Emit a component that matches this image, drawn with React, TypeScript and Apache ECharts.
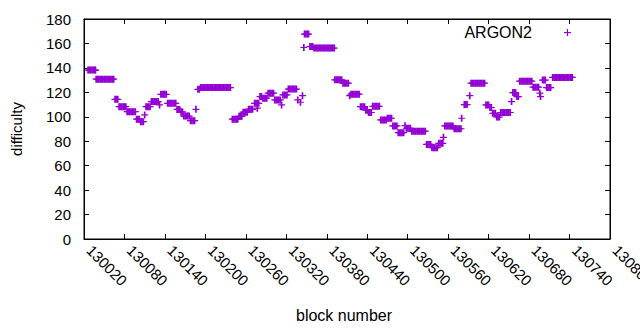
import React, { useEffect, useRef } from "react";
import * as echarts from "echarts";

const SERIES_NAME = "ARGON2";
const X_MIN = 130020;
const X_MAX = 130800;
const X_STEP = 60;
const Y_MIN = 0;
const Y_MAX = 180;
const Y_STEP = 20;

// [block number, difficulty]
const pointsEarly: [number, number][] = [
  [130026, 138.2], [130028, 138.2], [130030, 138.2], [130032, 138.2], [130034, 138.2], [130036, 138.2], [130037, 138.2],
  [130038, 130.8], [130040, 130.8], [130042, 130.8], [130044, 130.8], [130046, 130.8], [130048, 130.8], [130050, 130.8],
  [130052, 130.8], [130054, 130.8], [130056, 130.8], [130058, 130.8], [130060, 130.8], [130062, 130.8], [130064, 130.8],
  [130066, 114.3], [130068, 114.3], [130070, 114.3],
  [130072, 108.3], [130074, 108.3], [130076, 108.3], [130078, 108.3], [130080, 108.3], [130082, 108.3],
  [130084, 104.2], [130086, 104.2], [130088, 104.2], [130090, 104.2], [130092, 104.2], [130094, 104.2], [130096, 104.2],
  [130098, 98], [130100, 98], [130102, 98],
  [130104, 96], [130106, 96], [130108, 96],
  [130110, 101.5],
  [130112, 108.3], [130114, 108.3], [130116, 108.3], [130118, 108.3],
  [130120, 112.4], [130122, 112.4], [130124, 112.4], [130126, 112.4], [130128, 112.4], [130130, 112.4],
  [130132, 109.7],
  [130134, 118.4], [130136, 118.4], [130138, 118.4], [130140, 118.4], [130142, 118.4],
  [130144, 111], [130146, 111], [130148, 111], [130150, 111], [130152, 111], [130154, 111], [130156, 111],
  [130158, 106], [130160, 106], [130162, 106],
  [130164, 104], [130166, 104],
  [130168, 100.6], [130170, 100.6], [130172, 100.6], [130174, 100.6], [130176, 100.6],
  [130178, 96.8], [130180, 96.8], [130182, 96.8], [130184, 96.8],
  [130186, 106.1],
  [130189, 122.5], [130191, 122.5],
  [130193, 123.9], [130195, 123.9], [130197, 123.9], [130199, 123.9], [130201, 123.9], [130203, 123.9], [130205, 123.9],
  [130207, 123.9], [130209, 123.9], [130211, 123.9], [130213, 123.9], [130215, 123.9], [130217, 123.9], [130219, 123.9],
  [130221, 123.9], [130223, 123.9], [130225, 123.9], [130227, 123.9], [130229, 123.9], [130231, 123.9], [130233, 123.9],
  [130235, 123.9], [130237, 123.9],
];

const pointsMiddle: [number, number][] = [
  [130240, 98], [130242, 98], [130244, 98], [130246, 98], [130248, 98],
  [130250, 100.4], [130252, 100.4], [130254, 100.4],
  [130256, 103.8], [130258, 103.8], [130260, 103.8], [130262, 103.8],
  [130264, 106.1], [130266, 106.1], [130268, 106.1], [130270, 106.1],
  [130273, 111], [130275, 111], [130277, 111], [130279, 111],
  [130277, 107],
  [130281, 116.5], [130283, 116.5],
  [130285, 115.2], [130287, 115.2], [130289, 115.2], [130291, 115.2],
  [130293, 119.3], [130295, 119.3], [130297, 119.3], [130299, 119.3], [130301, 119.3],
  [130303, 113.8], [130305, 113.8], [130307, 113.8], [130309, 113.8], [130311, 113.8],
  [130313, 109.7],
  [130315, 117.9], [130317, 117.9], [130319, 117.9], [130321, 117.9],
  [130323, 122.7], [130325, 122.7], [130327, 122.7], [130329, 122.7], [130331, 122.7], [130333, 122.7], [130335, 122.7],
  [130337, 113.8], [130341, 111.9], [130344, 117.3], [130346, 156.7],
  [130347, 167.7], [130349, 167.7], [130351, 167.7], [130353, 167.7],
  [130355, 157.5], [130357, 157.5], [130359, 157.5],
  [130361, 156.2], [130363, 156.2], [130365, 156.2], [130367, 156.2], [130369, 156.2], [130371, 156.2], [130373, 156.2],
  [130375, 156.2], [130377, 156.2], [130379, 156.2], [130381, 156.2], [130383, 156.2], [130385, 156.2], [130387, 156.2],
  [130389, 156.2], [130391, 156.2],
  [130392, 130.2], [130394, 130.2], [130396, 130.2], [130398, 130.2], [130400, 130.2], [130402, 130.2],
  [130404, 127.5], [130406, 127.5], [130408, 127.5], [130410, 127.5], [130412, 127.5],
  [130414, 117.3],
  [130416, 118.5], [130418, 118.5], [130420, 118.5], [130422, 118.5], [130424, 118.5], [130426, 118.5], [130428, 118.5],
  [130430, 108.3], [130432, 108.3], [130434, 108.3], [130436, 108.3],
  [130438, 105.4], [130440, 105.4],
  [130442, 103.5], [130444, 103.5], [130446, 103.5],
  [130448, 108.6], [130450, 108.6], [130452, 108.6], [130454, 108.6], [130456, 108.6], [130458, 108.6],
  [130460, 97.4], [130462, 97.4], [130464, 97.4], [130466, 97.4], [130468, 97.4],
  [130470, 98.8], [130472, 98.8], [130474, 98.8], [130476, 98.8],
  [130478, 92.5], [130480, 92.5], [130482, 92.5], [130484, 92.5],
  [130486, 87], [130488, 87], [130490, 87], [130492, 87], [130494, 87],
  [130496, 92.7],
  [130498, 90.6], [130500, 90.6], [130502, 90.6], [130504, 90.6],
  [130506, 88.2], [130508, 88.2], [130510, 88.2], [130512, 88.2], [130514, 88.2], [130516, 88.2], [130518, 88.2],
  [130520, 88.2], [130522, 88.2], [130524, 88.2], [130526, 88.2],
];

const pointsLate: [number, number][] = [
  [130528, 77.4], [130530, 77.4], [130532, 77.4], [130534, 77.4],
  [130536, 74.7], [130538, 74.7], [130540, 74.7], [130542, 74.7], [130544, 74.7],
  [130546, 78.3], [130548, 78.3], [130550, 78.3], [130552, 78.3],
  [130553, 83.2],
  [130555, 92.5], [130557, 92.5], [130559, 92.5], [130561, 92.5], [130563, 92.5], [130565, 92.5], [130567, 92.5],
  [130569, 90.2], [130571, 90.2], [130573, 90.2], [130575, 90.2], [130577, 90.2], [130579, 90.2],
  [130580, 98.8],
  [130584, 110], [130586, 110], [130588, 110],
  [130592, 117.3],
  [130594, 127.5], [130596, 127.5], [130598, 127.5], [130600, 127.5], [130602, 127.5], [130604, 127.5],
  [130606, 127.5], [130608, 127.5], [130610, 127.5], [130612, 127.5], [130614, 127.5],
  [130616, 109.7], [130618, 109.7], [130620, 109.7],
  [130622, 107.6], [130624, 107.6],
  [130626, 102.9], [130628, 102.9], [130630, 102.9],
  [130632, 99.8], [130634, 99.8], [130636, 99.8],
  [130638, 103.5], [130640, 103.5], [130642, 103.5], [130644, 103.5], [130646, 103.5], [130648, 103.5], [130650, 103.5], [130652, 103.5],
  [130654, 112.4],
  [130656, 119.8], [130658, 119.8], [130660, 119.8],
  [130662, 116.5], [130664, 116.5],
  [130666, 129.1], [130668, 129.1], [130670, 129.1], [130672, 129.1], [130674, 129.1],
  [130676, 129.1], [130678, 129.1], [130680, 129.1], [130682, 129.1], [130684, 129.1],
  [130686, 124.2], [130688, 124.2], [130690, 124.2], [130692, 124.2], [130694, 124.2],
  [130696, 119.3], [130697, 116.5],
  [130700, 130], [130702, 130], [130704, 130],
  [130706, 123.9], [130708, 123.9], [130710, 123.9], [130712, 123.9],
  [130715, 132.2], [130717, 132.2], [130719, 132.2], [130721, 132.2], [130723, 132.2], [130725, 132.2], [130727, 132.2],
  [130729, 132.2], [130731, 132.2], [130733, 132.2], [130735, 132.2], [130737, 132.2], [130739, 132.2], [130741, 132.2],
  [130743, 132.2], [130744, 132.2],
];

const COLOR = "#9400D3";
const FONT = '"Liberation Sans", Arial, sans-serif';
const PLUS = "path://M0,2.9H7V4.1H0Z M2.65,0H4.35V7H2.65Z";

export default function App() {
  const ref = useRef<HTMLDivElement>(null);
  useEffect(() => {
    document.body.style.margin = "0";
    const chart = echarts.init(ref.current!, null, { renderer: "svg" });
    const tickStyle = { show: true, inside: true, length: 5, lineStyle: { color: "#000", width: 1 } };
    const lineStyle = { show: true, onZero: false, lineStyle: { color: "#000", width: 1 } };
    const labelBase = { color: "#000", fontSize: 15, fontFamily: FONT };
    chart.setOption({
      animation: false,
      backgroundColor: "#fff",
      grid: {
        left: 84, right: 30, top: 19, bottom: 91,
        show: true, borderColor: "#000", borderWidth: 1, backgroundColor: "transparent",
        containLabel: false, outerBoundsMode: "none",
      },
      xAxis: [
        {
          type: "value", min: X_MIN, max: X_MAX, interval: X_STEP, position: "bottom",
          axisLine: lineStyle, axisTick: tickStyle, splitLine: { show: false },
          axisLabel: { ...labelBase, rotate: -45, margin: 14, verticalAlign: "bottom", showMaxLabel: true, showMinLabel: true, hideOverlap: false,
            formatter: (v: number) => String(v) },
          name: "block number", nameLocation: "middle", nameGap: 68,
          nameTextStyle: { ...labelBase, fontSize: 16, padding: [0, 6, 0, 0] },
        },
        {
          type: "value", min: X_MIN, max: X_MAX, interval: X_STEP, position: "top",
          axisLine: lineStyle, axisTick: tickStyle, splitLine: { show: false }, axisLabel: { show: false },
        },
      ],
      yAxis: [
        {
          type: "value", min: Y_MIN, max: Y_MAX, interval: Y_STEP, position: "left",
          axisLine: lineStyle, axisTick: tickStyle, splitLine: { show: false },
          axisLabel: { ...labelBase, margin: 13 },
          name: "difficulty", nameLocation: "middle", nameGap: 60, nameRotate: 90,
          nameTextStyle: { ...labelBase },
        },
        {
          type: "value", min: Y_MIN, max: Y_MAX, interval: Y_STEP, position: "right",
          axisLine: lineStyle, axisTick: tickStyle, splitLine: { show: false }, axisLabel: { show: false },
        },
      ],
      series: [
        {
          name: SERIES_NAME,
          type: "scatter",
          xAxisIndex: 0,
          yAxisIndex: 0,
          symbol: PLUS,
          symbolSize: 7,
          itemStyle: { color: COLOR, opacity: 1 },
          data: [...pointsEarly, ...pointsMiddle, ...pointsLate],
        },
      ],
      graphic: [
        {
          type: "text", x: 532, y: 32,
          style: { text: SERIES_NAME, align: "right", verticalAlign: "middle", fill: "#000", font: `16px ${FONT}` },
        },
        { type: "rect", shape: { x: 564, y: 32, width: 7, height: 1.2 }, style: { fill: COLOR } },
        { type: "rect", shape: { x: 566.9, y: 29.1, width: 1.2, height: 7 }, style: { fill: COLOR } },
      ],
    });
    return () => chart.dispose();
  }, []);
  return <div ref={ref} style={{ width: 640, height: 330 }} />;
}
